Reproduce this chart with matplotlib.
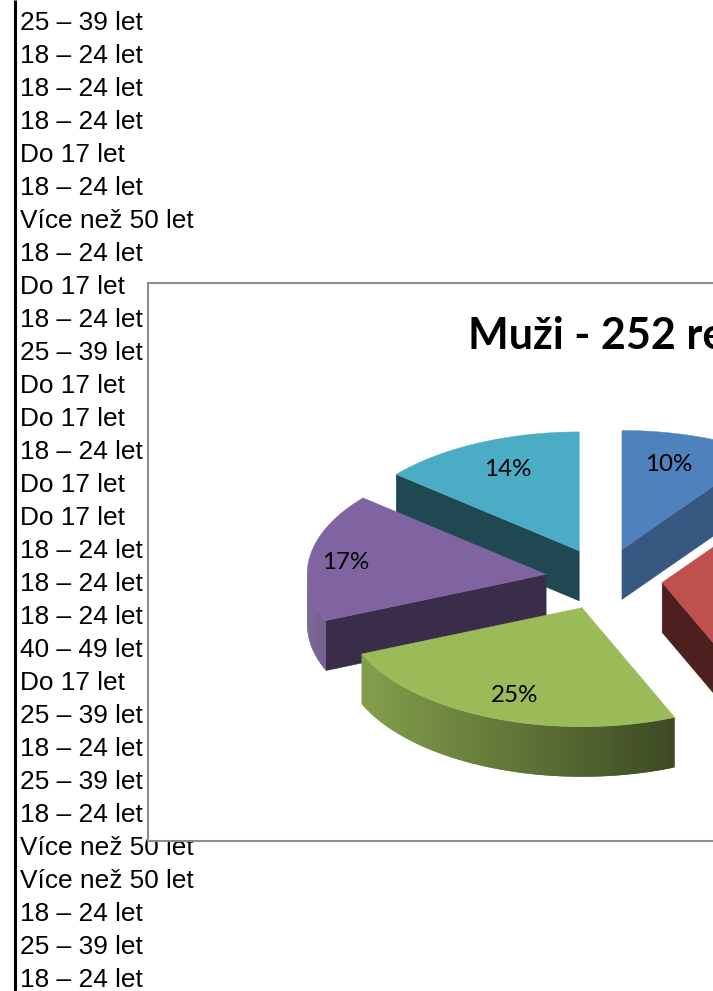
#!/usr/bin/python
# -*- coding: utf-8 -*-
import numpy as np
import matplotlib
matplotlib.use("Agg")
import matplotlib.patches as patches
from matplotlib.colors import to_rgb
from matplotlib.pyplot import subplots

rows = ["25 – 39 let", "18 – 24 let", "18 – 24 let", "18 – 24 let", "Do 17 let", "18 – 24 let",
        "Více než 50 let", "18 – 24 let", "Do 17 let", "18 – 24 let", "25 – 39 let", "Do 17 let",
        "Do 17 let", "18 – 24 let", "Do 17 let", "Do 17 let", "18 – 24 let", "18 – 24 let",
        "18 – 24 let", "40 – 49 let", "Do 17 let", "25 – 39 let", "18 – 24 let", "25 – 39 let",
        "18 – 24 let", "Více než 50 let", "Více než 50 let", "18 – 24 let", "25 – 39 let", "18 – 24 let"]

title = "Muži - 252 respondentů"
# respondents per slice
counts = [25, 85, 63, 44, 35]
colors = ["#4f81bd", "#c0504d", "#9bbb59", "#8064a2", "#4bacc6"]

# how dark the cut faces are, and where each label sits inside its slice
wall_dark = [0.68, 0.40, 0.40, 0.45, 0.42]
label_fx = [0.64, 0.72, 0.75, 0.85, 0.71]
label_fy = [0.77, 0.77, 0.78, 0.77, 0.77]

cx, cy = 604, 579
rx, ry = 239, 119
depth = 50
explode = 58.5
explode_y = 0.53


def shade(color, f):
    return tuple(c * f for c in to_rgb(color))


def point(t, x0, y0):
    return x0 + rx * np.sin(t), y0 - ry * np.cos(t)


def draw_wall(ax, t, x0, y0, color, z):
    x, y = point(t, x0, y0)
    ax.add_patch(patches.Polygon([(x0, y0), (x, y), (x, y + depth), (x0, y0 + depth)],
                                 facecolor=color, edgecolor=color, linewidth=0.3, zorder=z))


def draw_rim(ax, a0, a1, x0, y0, color, z):
    lo, hi = max(a0, np.pi / 2), min(a1, 3 * np.pi / 2)
    if lo >= hi:
        return
    # thin strips for the gradient, each one overlaps the next so no seams show
    ts = np.linspace(lo, hi, 140)
    for k in range(len(ts) - 1):
        t0, t1 = ts[k], ts[min(k + 2, len(ts) - 1)]
        f = 0.88 - 0.35 * (np.sin(ts[k]) + 1)
        xa, ya = point(t0, x0, y0)
        xb, yb = point(t1, x0, y0)
        ax.add_patch(patches.Polygon([(xa, ya), (xb, yb), (xb, yb + depth), (xa, ya + depth)],
                                     facecolor=shade(color, f), edgecolor="none", zorder=z))


def draw_slice(ax, i, a0, a1, z):
    color = colors[i]
    mid = (a0 + a1) / 2
    x0 = cx + explode * np.sin(mid)
    y0 = cy - explode * explode_y * np.cos(mid)
    wall = shade(color, wall_dark[i])
    if np.sin(a1) > 1e-6:
        draw_wall(ax, a1, x0, y0, wall, z)
    if np.sin(a0) < -1e-6:
        draw_wall(ax, a0, x0, y0, wall, z)
    draw_rim(ax, a0, a1, x0, y0, color, z)
    ts = np.linspace(a0, a1, 120)
    top = [(x0, y0)] + [point(t, x0, y0) for t in ts]
    ax.add_patch(patches.Polygon(top, facecolor=color, edgecolor=color, linewidth=0.3, zorder=z))
    pct = round(100 * counts[i] / sum(counts))
    ax.text(x0 + label_fx[i] * rx * np.sin(mid), y0 - label_fy[i] * ry * np.cos(mid) + 2, "%d%%" % pct,
            fontsize=17.4, family="Lato", color="black", ha="center", va="center", zorder=z)


fig, ax = subplots(figsize=(7.13, 9.91), dpi=100, facecolor="w")
fig.subplots_adjust(left=0, right=1, top=1, bottom=0)
ax.set_xlim(0, 713)
ax.set_ylim(991, 0)
ax.axis("off")

# spreadsheet column behind the chart
ax.plot([15, 15], [0, 991], color="black", linewidth=2.2, zorder=1, solid_capstyle="butt")
for i, row in enumerate(rows):
    ax.text(20, 30 + 33 * i, row, fontsize=18.9, family="Liberation Sans", color="black",
            ha="left", va="baseline", zorder=1)

# chart frame, runs off the right edge
ax.add_patch(patches.Rectangle((148, 283), 700, 558, facecolor="white", edgecolor="#8c8c8c",
                               linewidth=1.5, zorder=2))
ax.text(468, 349, title, fontsize=31, fontweight="bold", family="Lato", color="black",
        ha="left", va="baseline", zorder=3, clip_on=True)

angles = np.cumsum([0] + counts) / sum(counts) * 2 * np.pi
# paint back to front
mids = (angles[:-1] + angles[1:]) / 2
order = np.argsort(-np.cos(mids))
for n, i in enumerate(order):
    draw_slice(ax, i, angles[i], angles[i + 1], 4 + n)

fig.savefig("out.png", dpi=100)
